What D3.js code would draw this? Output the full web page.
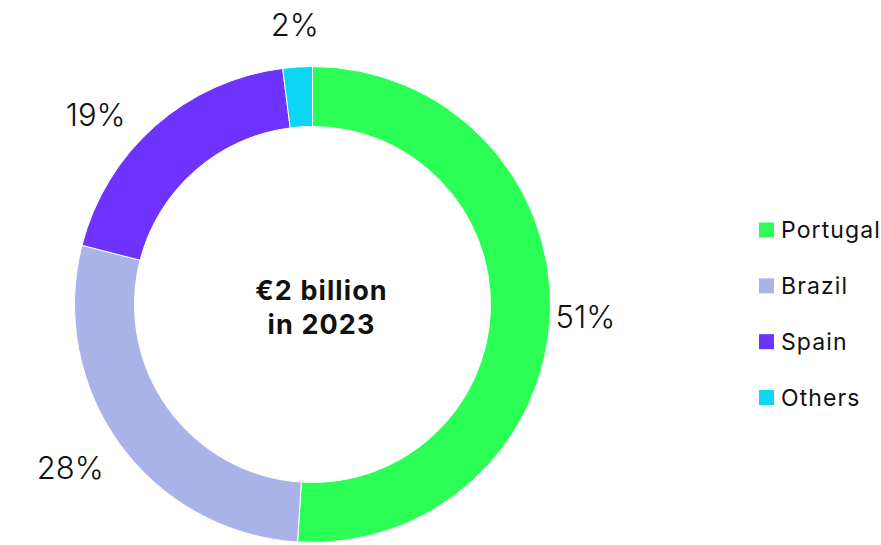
<!DOCTYPE html>
<html>
<head>
<meta charset="utf-8">
<script src="https://cdn.jsdelivr.net/npm/d3@7"></script>
<style>
  html, body { margin: 0; padding: 0; background: #fff; }
  svg { display: block; }
  text { font-family: Inter, "Noto Sans", sans-serif; fill: #111; }
</style>
</head>
<body>
<svg id="chart" width="881" height="545"></svg>
<script>
const categories = ["Portugal", "Brazil", "Spain", "Others"];
const values = [51, 28, 19, 2];
const labels = ["51%", "28%", "19%", "2%"];
const colors = ["#2BFF55", "#A9B3E8", "#6E33FF", "#0DD6F5"];
const centerLines = ["€2 billion", "in 2023"];

const svg = d3.select("#chart");
const cx = 312.5, cy = 304.5;
const outerR = 238, innerR = 178, labelR = 281;
// small layout nudges for the outside labels (px)
const labelNudge = { Portugal: [-8, 3], Brazil: [-15, -2], Spain: [-31, 21], Others: [0, 0] };

const data = categories.map((c, i) => ({ name: c, value: values[i], label: labels[i], color: colors[i] }));

const pie = d3.pie().value(d => d.value).sort(null);
const arcs = pie(data);
const arc = d3.arc().innerRadius(innerR).outerRadius(outerR);
const labelArc = d3.arc().innerRadius(labelR).outerRadius(labelR);

const g = svg.append("g").attr("transform", `translate(${cx},${cy})`);

g.selectAll("path.slice")
  .data(arcs)
  .join("path")
  .attr("class", "slice")
  .attr("d", arc)
  .attr("fill", d => d.data.color)
  .attr("stroke", "#fff")
  .attr("stroke-width", 1);

g.selectAll("text.pct")
  .data(arcs)
  .join("text")
  .attr("class", "pct")
  .attr("transform", d => {
    const [x, y] = labelArc.centroid(d);
    const n = labelNudge[d.data.name];
    return `translate(${x + n[0]},${y + n[1]})`;
  })
  .attr("text-anchor", "middle")
  .attr("dominant-baseline", "central")
  .style("font-size", "31px")
  .style("font-weight", 300)
  .text(d => d.data.label);

const ct = g.append("text")
  .attr("text-anchor", "middle")
  .style("font-size", "27px")
  .style("letter-spacing", "1.1px")
  .style("font-weight", 700);
ct.selectAll("tspan")
  .data(centerLines)
  .join("tspan")
  .attr("x", 9)
  .attr("y", (d, i) => -4.5 + i * 34)
  .text(d => d);

const legendY = d3.scalePoint().domain(categories).range([230, 397.5]);
const lg = svg.append("g");
const items = lg.selectAll("g.item")
  .data(data)
  .join("g")
  .attr("class", "item")
  .attr("transform", d => `translate(759,${legendY(d.name)})`);
items.append("rect")
  .attr("x", 0).attr("y", -7.5)
  .attr("width", 15).attr("height", 15)
  .attr("fill", d => d.color);
items.append("text")
  .attr("x", 22)
  .attr("dominant-baseline", "central")
  .style("font-size", "23px")
  .style("letter-spacing", "1.1px")
  .style("font-weight", 400)
  .text(d => d.name);
</script>
</body>
</html>
